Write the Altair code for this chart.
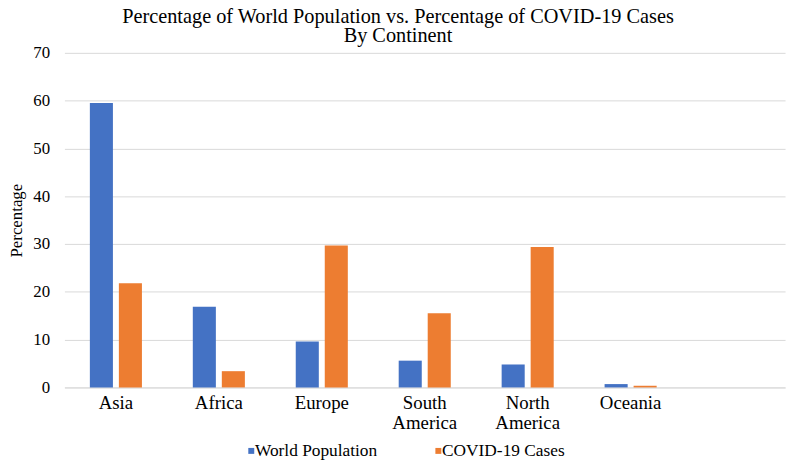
import altair as alt
import pandas as pd

continents = ["Asia", "Africa", "Europe", "South America", "North America", "Oceania"]
world_population = [59.5, 16.9, 9.6, 5.6, 4.8, 0.7]
covid_cases = [21.8, 3.4, 29.7, 15.5, 29.4, 0.35]
series = ["World Population", "COVID-19 Cases"]
colors = ["#4472C4", "#ED7D31"]
y_ticks = [0, 10, 20, 30, 40, 50, 60, 70]
x_domain = continents + ["_"]
title_lines = ["Percentage of World Population vs. Percentage of COVID-19 Cases", "By Continent"]

rows = []
for c, p, k in zip(continents, world_population, covid_cases):
    rows.append({"Continent": c, "Series": series[0], "Value": p})
    rows.append({"Continent": c, "Series": series[1], "Value": k})
df = pd.DataFrame(rows)

FONT = "Liberation Serif"

chart = alt.Chart(df).mark_bar().encode(
    x=alt.X(
        "Continent:N",
        sort=x_domain,
        scale=alt.Scale(domain=x_domain, paddingInner=0, paddingOuter=0),
        axis=alt.Axis(
            title=None,
            labelAngle=0,
            labelExpr="datum.value == '_' ? '' : split(datum.value, ' ')",
            ticks=False,
            domain=True,
            domainColor="#d9d9d9",
            domainWidth=1,
            labelPadding=6,
            labelFont=FONT,
            labelFontSize=19,
            labelLineHeight=21,
            labelBaseline="top",
            labelColor="#000000",
            grid=False,
        ),
    ),
    xOffset=alt.XOffset(
        "Series:N",
        sort=series,
        scale=alt.Scale(domain=series, paddingInner=0.205, paddingOuter=0.877),
    ),
    y=alt.Y(
        "Value:Q",
        scale=alt.Scale(domain=[0, 70]),
        axis=alt.Axis(
            values=y_ticks,
            title="Percentage",
            grid=True,
            gridColor="#d9d9d9",
            gridWidth=1,
            domain=False,
            ticks=False,
            labelPadding=15,
            labelFont=FONT,
            labelFontSize=17,
            labelColor="#000000",
            titleFont=FONT,
            titleFontSize=17,
            titleFontWeight="normal",
            titleColor="#000000",
            titlePadding=7,
        ),
    ),
    color=alt.Color(
        "Series:N",
        sort=series,
        scale=alt.Scale(domain=series, range=colors),
        legend=alt.Legend(
            title=None,
            orient="none",
            direction="horizontal",
            legendX=175,
            legendY=393,
            symbolType="M0.67,-1H2.67V1H0.67Z",
            symbolSize=36,
            symbolStrokeWidth=0,
            labelFont=FONT,
            labelFontSize=17.5,
            labelColor="#000000",
            labelOffset=0,
            columnPadding=47,
            padding=0,
        ),
    ),
).properties(
    width=728,
    height=338,
    autosize=alt.AutoSizeParams(type="none"),
    padding={"left": 57, "top": 43, "right": 4, "bottom": 71},
    title=alt.Title(
        title_lines,
        font=FONT,
        fontSize=20.5,
        fontWeight="normal",
        color="#000000",
        anchor="middle",
        frame="group",
        dx=-27,
        lineHeight=19.5,
        offset=-3,
    ),
).configure(
    font=FONT
).configure_view(
    stroke=None
)

chart.save("out.html", embed_options={"renderer": "svg", "actions": False})
